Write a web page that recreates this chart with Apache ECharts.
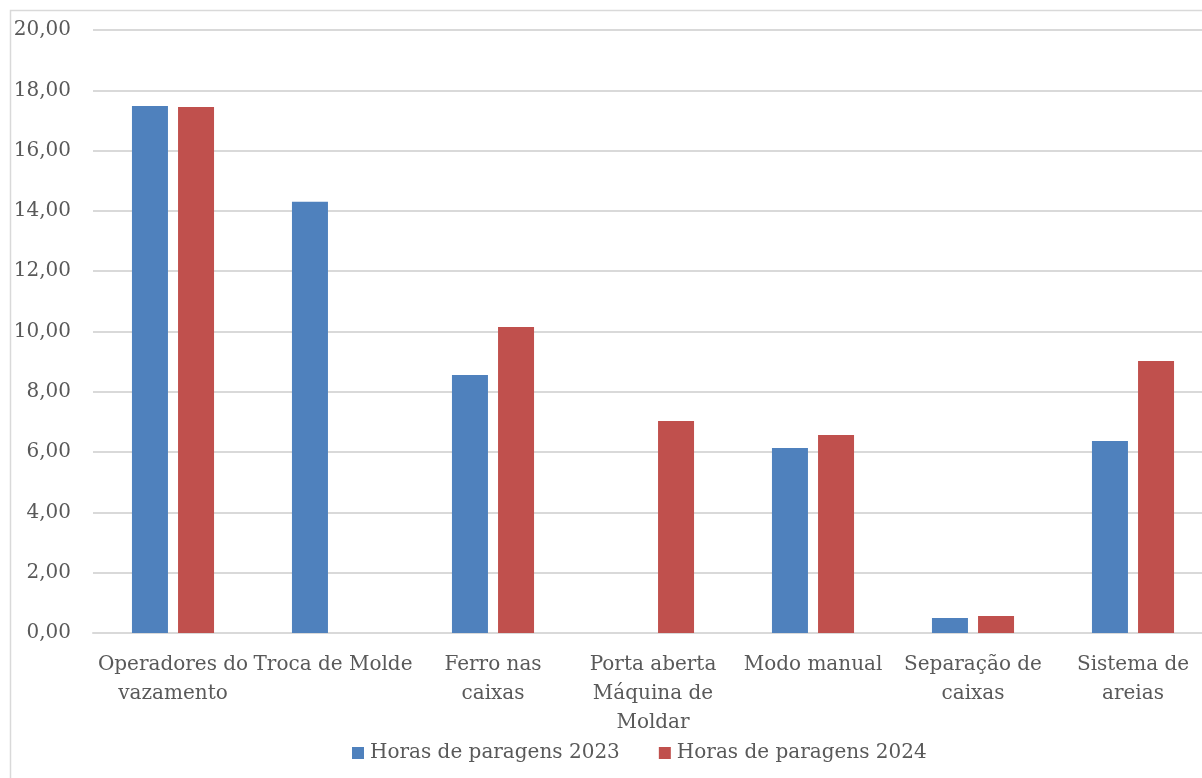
<!DOCTYPE html>
<html>
<head>
<meta charset="utf-8">
<script src="https://cdn.jsdelivr.net/npm/echarts@6/dist/echarts.min.js"></script>
<style>
  html, body { margin: 0; padding: 0; background: #fff; overflow: hidden; }
  #chart { width: 1260px; height: 778px; }
</style>
</head>
<body>
<div id="chart"></div>
<script>
// categorias (com quebras de linha como no original)
const categories = [
  'Operadores do\nvazamento',
  'Troca de Molde',
  'Ferro nas\ncaixas',
  'Porta aberta\nMáquina de\nMoldar',
  'Modo manual',
  'Separação de\ncaixas',
  'Sistema de\nareias'
];
const seriesNames = ['Horas de paragens 2023', 'Horas de paragens 2024'];
const horas2023 = [17.48, 14.30, 8.56, 0, 6.14, 0.50, 6.37];
const horas2024 = [17.45, 0, 10.15, 7.03, 6.57, 0.56, 9.02];
const yTicks = { min: 0, max: 20, interval: 2 };

const textColor = '#595959';
const fontFamily = '"DejaVu Serif", serif';

const chart = echarts.init(document.getElementById('chart'));

chart.setOption({
  animation: false,
  textStyle: { fontFamily: fontFamily },
  graphic: [{
    type: 'rect',
    shape: { x: 10.5, y: 10.5, width: 1400, height: 900 },
    style: { fill: 'none', stroke: '#d9d9d9', lineWidth: 1.5 },
    silent: true
  }],
  grid: { left: 93, top: 30, right: 47, bottom: 145, containLabel: false },
  legend: {
    left: 347,
    top: 738,
    itemWidth: 12,
    itemHeight: 12,
    itemGap: 39,
    icon: 'rect',
    textStyle: { color: textColor, fontSize: 20, fontFamily: fontFamily, padding: [0, 0, 0, 1] },
    data: seriesNames
  },
  xAxis: {
    type: 'category',
    data: categories,
    axisLine: { lineStyle: { color: '#d9d9d9', width: 2 } },
    axisTick: { show: false },
    axisLabel: {
      interval: 0,
      color: textColor,
      fontSize: 20,
      lineHeight: 29,
      margin: 17,
      fontFamily: fontFamily
    }
  },
  yAxis: {
    type: 'value',
    min: yTicks.min,
    max: yTicks.max,
    interval: yTicks.interval,
    axisLine: { show: false },
    axisTick: { show: false },
    splitLine: { lineStyle: { color: '#d9d9d9', width: 2 } },
    axisLabel: {
      color: textColor,
      fontSize: 20,
      margin: 22,
      fontFamily: fontFamily,
      formatter: v => v.toFixed(2).replace('.', ',')
    }
  },
  series: [
    {
      name: seriesNames[0],
      type: 'bar',
      data: horas2023,
      barWidth: 36,
      barGap: '28%',
      itemStyle: { color: '#4f81bd' }
    },
    {
      name: seriesNames[1],
      type: 'bar',
      data: horas2024,
      barWidth: 36,
      barGap: '28%',
      itemStyle: { color: '#c0504d' }
    }
  ]
});
</script>
</body>
</html>
